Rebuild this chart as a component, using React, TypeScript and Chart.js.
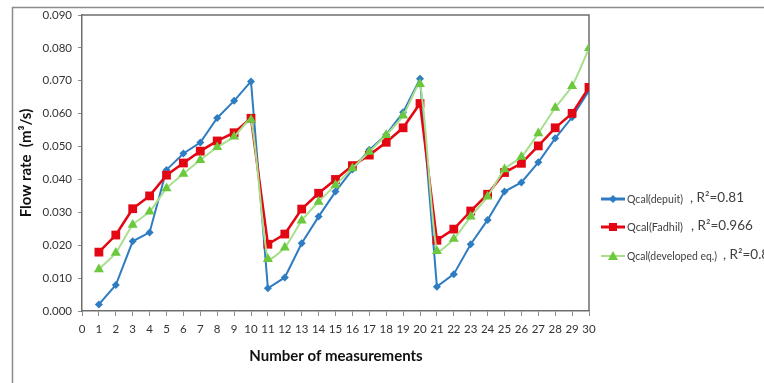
import React, { useEffect, useRef } from "react";
import { Chart, registerables } from "chart.js";

Chart.register(...registerables);

const measurementNumbers = [
  1, 2, 3, 4, 5, 6, 7, 8, 9, 10, 11, 12, 13, 14, 15,
  16, 17, 18, 19, 20, 21, 22, 23, 24, 25, 26, 27, 28, 29, 30,
];

const qcalDepuit = [
  0.002, 0.0079, 0.0212, 0.0239, 0.0429, 0.0479, 0.0512, 0.0587, 0.0639, 0.0698,
  0.0069, 0.0102, 0.0206, 0.0287, 0.0363, 0.043, 0.049, 0.0536, 0.0604, 0.0706,
  0.0074, 0.0112, 0.0203, 0.0277, 0.0363, 0.0391, 0.0452, 0.0525, 0.0589, 0.067,
];

const qcalFadhil = [
  0.0179, 0.0231, 0.0311, 0.035, 0.0413, 0.045, 0.0486, 0.0517, 0.0542, 0.0586,
  0.0203, 0.0234, 0.031, 0.0358, 0.04, 0.0442, 0.0474, 0.0513, 0.0557, 0.0631,
  0.0215, 0.0249, 0.0304, 0.0355, 0.0421, 0.0449, 0.0502, 0.0557, 0.0601, 0.068,
];

const qcalDeveloped = [
  0.0127, 0.0177, 0.0262, 0.0302, 0.0373, 0.0417, 0.0459, 0.0498, 0.053, 0.0581,
  0.0158, 0.0193, 0.0275, 0.0332, 0.0383, 0.0434, 0.0484, 0.0535, 0.0594, 0.069,
  0.0182, 0.0219, 0.0287, 0.0348, 0.0431, 0.0469, 0.054, 0.0618, 0.0684, 0.0799,
];

const seriesNames = ["Qcal(depuit)", "Qcal(Fadhil)", "Qcal(developed eq.)"];
const seriesR2 = [", R\u00b2=0.81", ", R\u00b2=0.966", ", R\u00b2=0.89"];

const BLUE = "#2e7cc1";
const RED = "#e30613";
const GREEN_LINE = "#a8df8c";
const GREEN_MARK = "#6cc83c";

function pts(vals: number[]) {
  return vals.map((v, i) => ({ x: measurementNumbers[i], y: v }));
}

function drawMarker(ctx: CanvasRenderingContext2D, kind: string, x: number, y: number, color: string) {
  ctx.save();
  ctx.fillStyle = color;
  ctx.beginPath();
  if (kind === "diamond") {
    ctx.moveTo(x, y - 4);
    ctx.lineTo(x + 4, y);
    ctx.lineTo(x, y + 4);
    ctx.lineTo(x - 4, y);
  } else if (kind === "square") {
    ctx.rect(x - 4, y - 4, 8, 8);
  } else {
    ctx.moveTo(x, y - 5);
    ctx.lineTo(x + 5, y + 4);
    ctx.lineTo(x - 5, y + 4);
  }
  ctx.closePath();
  ctx.fill();
  ctx.restore();
}

const decorPlugin = {
  id: "decor",
  beforeDraw(chart: any) {
    const ctx = chart.ctx as CanvasRenderingContext2D;
    ctx.save();
    ctx.fillStyle = "#ffffff";
    ctx.fillRect(0, 0, chart.width, chart.height);
    ctx.strokeStyle = "#8c8c8c";
    ctx.lineWidth = 1.5;
    ctx.beginPath();
    ctx.moveTo(12.5, chart.height);
    ctx.lineTo(12.5, 7.5);
    ctx.lineTo(chart.width, 7.5);
    ctx.stroke();
    ctx.restore();
  },
  beforeDatasetsDraw(chart: any) {
    const ctx = chart.ctx as CanvasRenderingContext2D;
    const a = chart.chartArea;
    ctx.save();
    ctx.strokeStyle = "#6e6e6e";
    ctx.lineWidth = 1.5;
    ctx.beginPath();
    ctx.moveTo(a.left, a.top);
    ctx.lineTo(a.right, a.top);
    ctx.lineTo(a.right, a.bottom);
    ctx.stroke();
    ctx.restore();
  },
  afterDraw(chart: any) {
    const ctx = chart.ctx as CanvasRenderingContext2D;
    ctx.save();
    // axis titles
    ctx.fillStyle = "#111111";
    ctx.font = "bold 15px Lato, 'Open Sans', sans-serif";
    ctx.textAlign = "center";
    ctx.textBaseline = "middle";
    ctx.fillText("Number of measurements", 336, 356);
    ctx.save();
    ctx.translate(26, 163);
    ctx.rotate(-Math.PI / 2);
    ctx.fillText("Flow rate  (m\u00b3/s)", 0, 0);
    ctx.restore();

    // legend
    const ys = [199, 227, 256];
    const colors = [BLUE, RED, GREEN_LINE];
    const markColors = [BLUE, RED, GREEN_MARK];
    const widths = [3, 3, 2];
    const kinds = ["diamond", "square", "triangle"];
    const r2x = [690, 691, 723];
    const nameMax = [56, 56, 90];
    for (let i = 0; i < 3; i++) {
      const y = ys[i];
      ctx.strokeStyle = colors[i];
      ctx.lineWidth = widths[i];
      ctx.beginPath();
      ctx.moveTo(601, y);
      ctx.lineTo(625, y);
      ctx.stroke();
      drawMarker(ctx, kinds[i], 613, y, markColors[i]);
      ctx.fillStyle = "#404040";
      ctx.textAlign = "left";
      ctx.textBaseline = "middle";
      ctx.font = "11.5px Lato, 'Open Sans', sans-serif";
      ctx.fillText(seriesNames[i], 627, y, nameMax[i]);
      ctx.font = "13.5px Lato, 'Open Sans', sans-serif";
      ctx.fillText(seriesR2[i], r2x[i], y - 1);
    }
    ctx.restore();
  },
};

export default function App() {
  const canvasRef = useRef<HTMLCanvasElement | null>(null);

  useEffect(() => {
    const canvas = canvasRef.current;
    if (!canvas) return;
    const tickFont = { family: "Lato, 'Open Sans', sans-serif", size: 11.5 };
    const chart = new Chart(canvas, {
      type: "line",
      data: {
        datasets: [
          {
            label: seriesNames[0],
            data: pts(qcalDepuit),
            borderColor: BLUE,
            backgroundColor: BLUE,
            borderWidth: 2,
            pointStyle: "rectRot",
            pointRadius: 4,
            pointBorderWidth: 0,
            tension: 0,
            order: 3,
          },
          {
            label: seriesNames[1],
            data: pts(qcalFadhil),
            borderColor: RED,
            backgroundColor: RED,
            borderWidth: 2.5,
            pointStyle: "rect",
            pointRadius: 6.2,
            pointBorderWidth: 0,
            tension: 0,
            order: 2,
          },
          {
            label: seriesNames[2],
            data: pts(qcalDeveloped),
            borderColor: GREEN_LINE,
            backgroundColor: GREEN_MARK,
            borderWidth: 2,
            pointStyle: "triangle",
            pointRadius: 5.8,
            pointBorderWidth: 0,
            tension: 0.2,
            order: 1,
          },
        ],
      },
      options: {
        animation: false,
        responsive: false,
        devicePixelRatio: 1,
        layout: { padding: { left: 0, right: 175, top: 15, bottom: 0 } },
        plugins: {
          legend: { display: false },
          tooltip: { enabled: false },
          title: { display: false },
        },
        scales: {
          x: {
            type: "linear",
            min: 0,
            max: 30,
            ticks: {
              stepSize: 1,
              autoSkip: false,
              maxRotation: 0,
              padding: 6,
              color: "#333333",
              font: tickFont,
            },
            grid: {
              display: true,
              drawOnChartArea: false,
              drawTicks: true,
              tickLength: 5,
              color: "#8c8c8c",
            },
            border: { display: true, color: "#6e6e6e", width: 1.5 },
            afterFit: (scale: any) => {
              scale.height = 72;
            },
          },
          y: {
            type: "linear",
            min: 0,
            max: 0.09,
            ticks: {
              stepSize: 0.01,
              padding: 6,
              color: "#333333",
              font: tickFont,
              callback: (v: any) => Number(v).toFixed(3),
            },
            grid: {
              display: true,
              drawOnChartArea: false,
              drawTicks: true,
              tickLength: 4,
              color: "#8c8c8c",
            },
            border: { display: true, color: "#6e6e6e", width: 1.5 },
            afterFit: (scale: any) => {
              scale.width = 82;
            },
          },
        },
      },
      plugins: [decorPlugin],
    });
    return () => chart.destroy();
  }, []);

  return (
    <div style={{ position: "absolute", left: 0, top: 0, width: 764, height: 383, background: "#fff" }}>
      <canvas ref={canvasRef} width={764} height={383} style={{ display: "block" }} />
    </div>
  );
}
